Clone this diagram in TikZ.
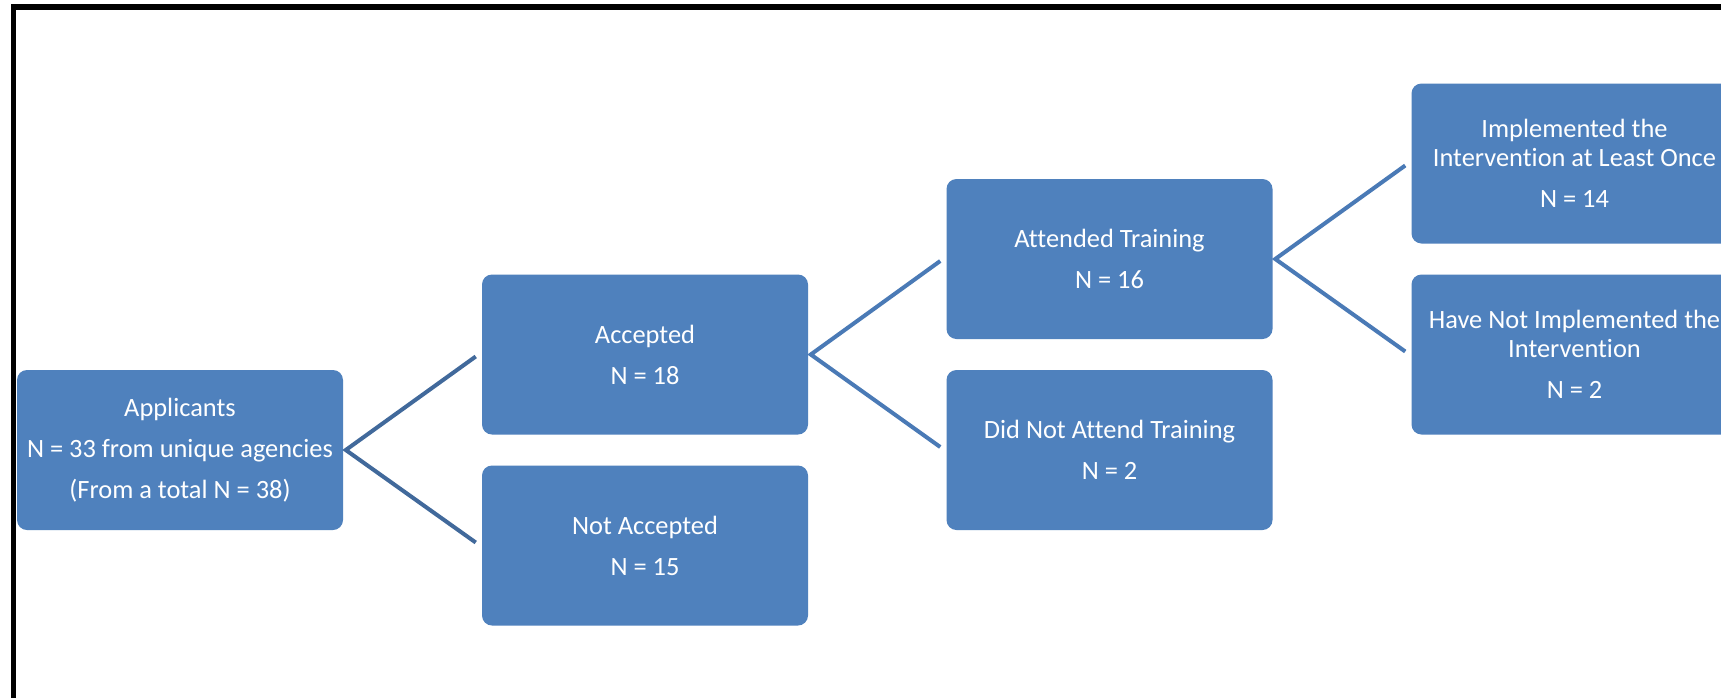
\documentclass[tikz,border=0pt]{standalone}
\usepackage{fontspec}
\setmainfont[Ligatures={NoCommon,NoContextual}]{Carlito}
\usetikzlibrary{calc}
\definecolor{boxblue}{HTML}{4F81BD}
\definecolor{linkdark}{HTML}{41699B}
\definecolor{linklight}{HTML}{4A7AB6}
\tikzset{
  stagebox/.style={rectangle, rounded corners=7.5pt, fill=boxblue, draw=none,
    minimum width=244.5pt, minimum height=120pt, inner sep=0pt,
    text=white, align=center, font=\fontsize{19.8pt}{21.75pt}\selectfont},
  linkA/.style={draw=linkdark, line width=3pt},
  linkB/.style={draw=linklight, line width=3pt},
}
\begin{document}
\begin{tikzpicture}[x=0.75pt,y=-0.75pt]
\path[use as bounding box] (0,0) rectangle (1721,697);
\clip (0,0) rectangle (1721,697);
\fill[white] (0,0) rectangle (1721,697);
\draw[line width=3.9pt, line join=miter] (13.7,760) -- (13.7,7) -- (1800,7);

\node[stagebox] (app) at (180,450) {Applicants\\[9pt]N = 33 from unique agencies\\[9pt](From a total N = 38)};
\node[stagebox] (acc) at (645,354.5) {Accepted\\[9pt]N = 18};
\node[stagebox] (nacc) at (645,545.5) {Not Accepted\\[9pt]N = 15};
\node[stagebox] (att) at (1109.5,259) {Attended Training\\[9pt]N = 16};
\node[stagebox] (natt) at (1109.5,450) {Did Not Attend Training\\[9pt]N = 2};
\node[stagebox] (impl) at (1574.5,163.5) {Implemented the\\Intervention at Least Once\\[9pt]N = 14};
\node[stagebox] (nimpl) at (1574.5,354.5) {Have Not Implemented the\\Intervention\\[9pt]N = 2};

\draw[linkA] ($(acc.west)+(-6,2)$) -- ($(app.east)+(2.5,0)$) -- ($(nacc.west)+(-6,-3)$);
\draw[linkB] ($(att.west)+(-6,2)$) -- ($(acc.east)+(2.5,0)$) -- ($(natt.west)+(-6,-3)$);
\draw[linkB] ($(impl.west)+(-6,2)$) -- ($(att.east)+(2.5,0)$) -- ($(nimpl.west)+(-6,-3)$);
\end{tikzpicture}
\end{document}
